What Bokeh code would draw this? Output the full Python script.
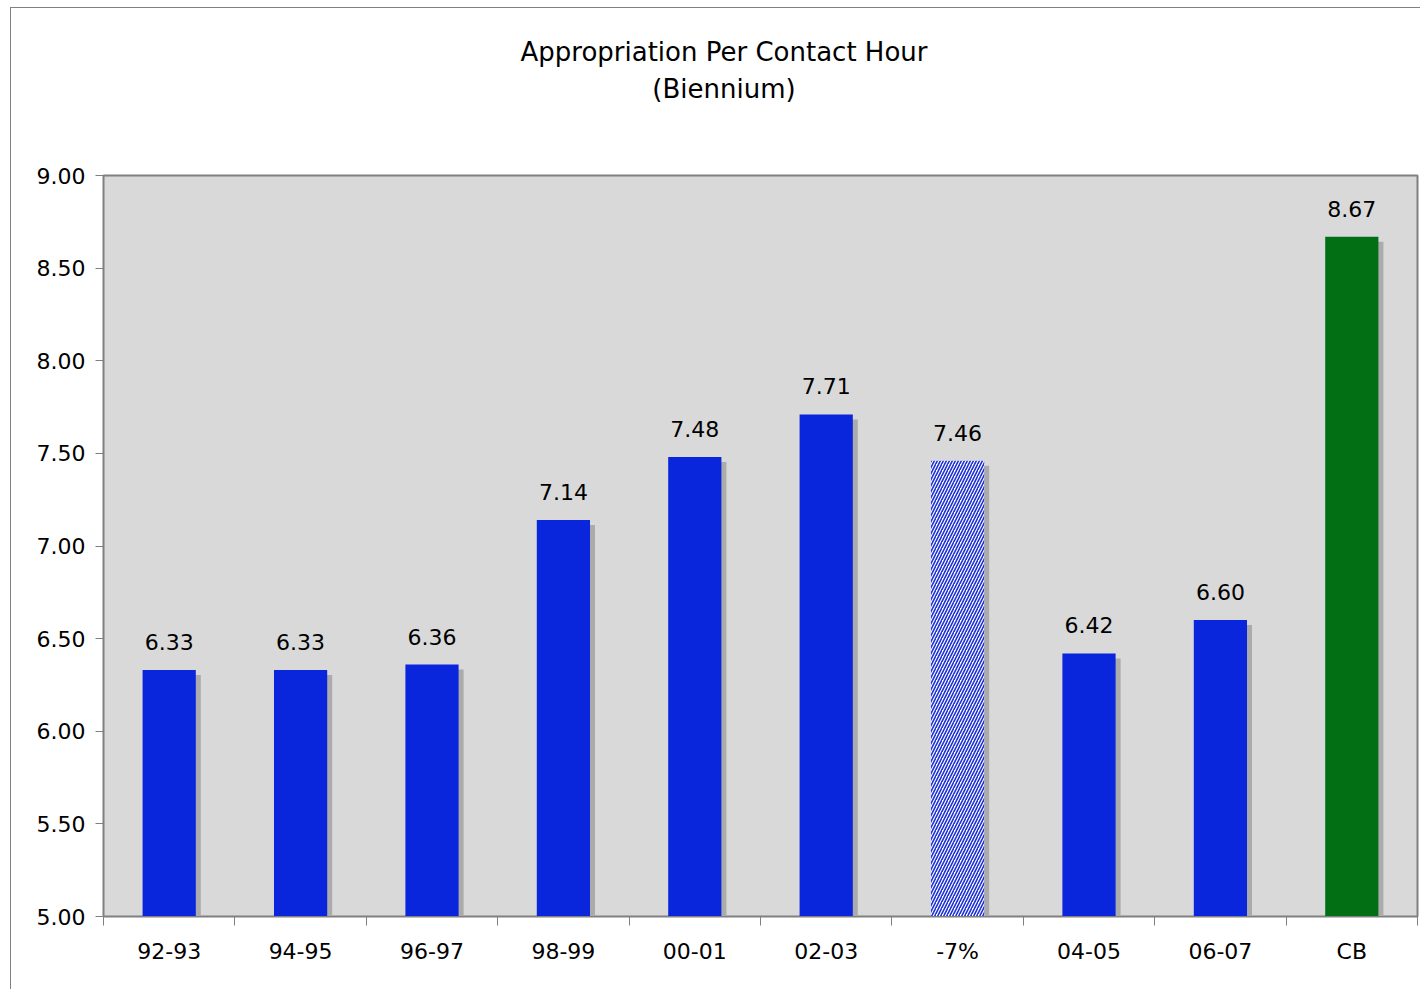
from bokeh.plotting import figure
from bokeh.models import FixedTicker, ColumnDataSource, Div
from bokeh.layouts import column
from bokeh.embed import file_html
from bokeh.resources import INLINE
from bokeh.core.properties import value

# ---- data ----
categories = ["92-93", "94-95", "96-97", "98-99", "00-01", "02-03", "-7%", "04-05", "06-07", "CB"]
values = [6.33, 6.33, 6.36, 7.14, 7.48, 7.71, 7.46, 6.42, 6.60, 8.67]
kinds = ["actual", "actual", "actual", "actual", "actual", "actual", "projected", "actual", "actual", "comparison"]
y_ticks = [5.0, 5.5, 6.0, 6.5, 7.0, 7.5, 8.0, 8.5, 9.0]
title_line1 = "Appropriation Per Contact Hour"
title_line2 = "(Biennium)"

FONT = "DejaVu Sans"
W, H = 1420, 989
TH = 110  # height of the title block
Y0, Y1 = 5.0, 9.0
n = len(categories)
FL, FT, FR, FB = 103, 175, 1417, 916  # frame edges in page pixels

title_html = (
    '<div style="width:1392px; margin-left:28px; padding-top:34px; text-align:center; '
    'font-family:\'DejaVu Sans\'; font-size:26px; line-height:37px; color:black;">'
    + title_line1 + "<br>" + title_line2 + "</div>"
)
div = Div(text=title_html, width=W, height=TH, margin=(0, 0, 0, 0))

p = figure(width=W, height=H - TH, x_range=(0, n), y_range=(Y0, Y1),
           output_backend="svg", toolbar_location=None,
           min_border_left=FL, min_border_right=W - FR,
           min_border_top=FT - TH, min_border_bottom=H - FB)
p.background_fill_color = "#d9d9d9"
p.border_fill_alpha = 0
p.outline_line_color = "#808080"
p.outline_line_width = 2
p.xgrid.visible = False
p.ygrid.visible = False

centers = [i + 0.5 for i in range(n)]
px_x = n / (FR - FL)
px_y = (Y1 - Y0) / (FB - FT)
bw = 0.405

colors = {"actual": "#0a26dc", "projected": "white", "comparison": "#036f15"}

src = ColumnDataSource(dict(
    x=centers,
    top=values,
    sx=[c + 5 * px_x for c in centers],
    stop=[v - 5 * px_y for v in values],
    label=["%.2f" % v for v in values],
))

# shadows
p.vbar(x="sx", top="stop", bottom=Y0, width=bw, source=src,
       fill_color="#ababab", line_color=None)

# bars
solid_idx = [i for i, k in enumerate(kinds) if k != "projected"]
hatch_idx = [i for i, k in enumerate(kinds) if k == "projected"]
p.vbar(x=[centers[i] for i in solid_idx], top=[values[i] for i in solid_idx], bottom=Y0,
       width=bw, fill_color=[colors[kinds[i]] for i in solid_idx], line_color=None)
p.vbar(x=[centers[i] for i in hatch_idx], top=[values[i] for i in hatch_idx], bottom=Y0,
       width=bw, fill_color="white", line_color=None,
       hatch_pattern="/", hatch_color="#1a2fd8", hatch_scale=6, hatch_weight=1.6)

# value labels
p.text(x="x", y="top", text="label", source=src, text_font=value(FONT),
       text_font_size="22px", text_color="black", text_align="center",
       text_baseline="alphabetic", y_offset=-28)

# y axis
p.yaxis.ticker = FixedTicker(ticks=y_ticks)
p.yaxis.major_label_overrides = {t: "%.2f" % t for t in y_ticks}
p.yaxis.major_label_text_font = FONT
p.yaxis.major_label_text_font_size = "22px"
p.yaxis.major_label_text_color = "black"
p.yaxis.major_tick_out = 8
p.yaxis.major_tick_in = 0
p.yaxis.minor_tick_line_color = None
p.yaxis.major_tick_line_color = "#808080"
p.yaxis.axis_line_color = "#808080"
p.yaxis.major_label_standoff = 10

# x axis: labels at centers, tick marks at boundaries (minor ticks)
p.xaxis.ticker = FixedTicker(ticks=centers, minor_ticks=list(range(n + 1)))
p.xaxis.major_label_overrides = {c: cat for c, cat in zip(centers, categories)}
p.xaxis.major_label_text_font = FONT
p.xaxis.major_label_text_font_size = "22px"
p.xaxis.major_label_text_color = "black"
p.xaxis.major_tick_line_color = None
p.xaxis.major_tick_out = 8
p.xaxis.major_tick_in = 0
p.xaxis.minor_tick_out = 9
p.xaxis.minor_tick_in = 0
p.xaxis.minor_tick_line_color = "#808080"
p.xaxis.axis_line_color = "#808080"
p.xaxis.major_label_standoff = 13

layout = column(div, p, spacing=0)
layout.styles = {
    "background": ("linear-gradient(#808080, #808080) 10px 7px / 1px 100% no-repeat, "
                   "linear-gradient(#808080, #808080) 10px 7px / 100% 1px no-repeat, white"),
}

open("out.html", "w").write(file_html(layout, INLINE))
